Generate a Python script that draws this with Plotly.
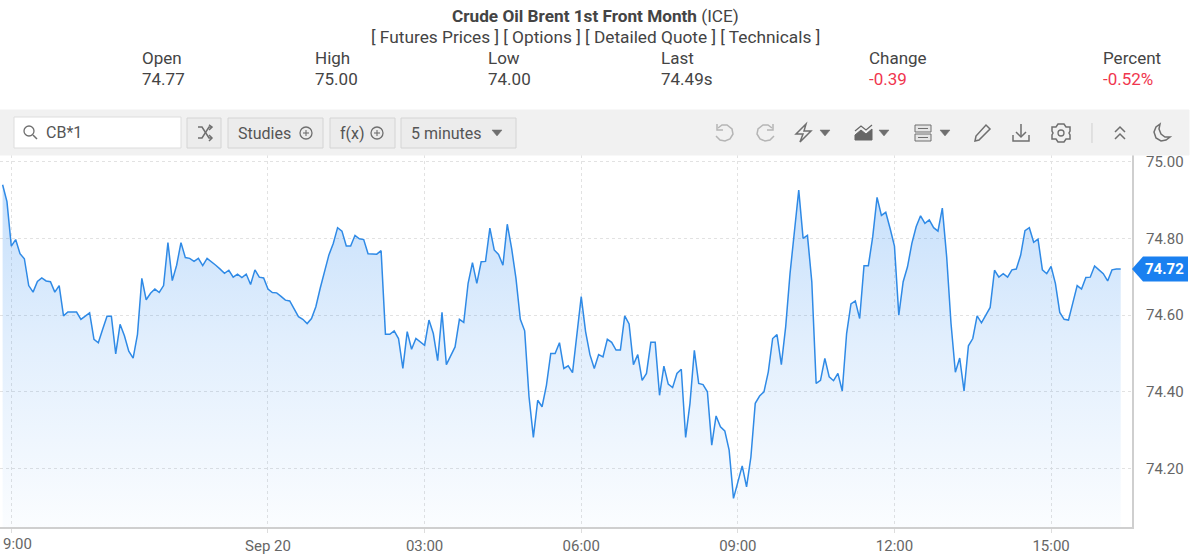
import plotly.graph_objects as go

# 5 minute closes
price = [
    74.94, 74.896, 74.78, 74.797, 74.76, 74.747, 74.677, 74.66, 74.688, 74.697, 74.689, 74.687,
    74.66, 74.677, 74.598, 74.608, 74.608, 74.608, 74.589, 74.597, 74.606, 74.537, 74.528, 74.563,
    74.597, 74.597, 74.499, 74.576, 74.546, 74.506, 74.488, 74.55, 74.696, 74.64, 74.657, 74.668,
    74.659, 74.677, 74.789, 74.69, 74.73, 74.789, 74.75, 74.748, 74.74, 74.748, 74.729, 74.748,
    74.74, 74.73, 74.72, 74.709, 74.717, 74.699, 74.707, 74.698, 74.707, 74.68, 74.718, 74.699,
    74.697, 74.668, 74.659, 74.658, 74.649, 74.639, 74.637, 74.616, 74.596,
    74.589, 74.578, 74.591, 74.622, 74.67, 74.717, 74.757, 74.787, 74.828, 74.819, 74.78, 74.78,
    74.808, 74.799, 74.797, 74.76, 74.759, 74.759, 74.768, 74.55, 74.55, 74.559, 74.539, 74.461,
    74.557, 74.511, 74.539, 74.53, 74.521, 74.587, 74.552, 74.481, 74.607, 74.471, 74.496, 74.517,
    74.589, 74.581, 74.683, 74.737, 74.683, 74.739, 74.74, 74.827, 74.77, 74.758, 74.73, 74.837,
    74.774, 74.696, 74.589, 74.559, 74.387, 74.281, 74.378, 74.361, 74.417, 74.5, 74.5, 74.528,
    74.461, 74.468, 74.45, 74.552, 74.648, 74.557, 74.497, 74.461, 74.497,
    74.491, 74.537, 74.529, 74.509, 74.509, 74.598, 74.577, 74.471, 74.497, 74.43, 74.448, 74.529,
    74.529, 74.391, 74.467, 74.42, 74.411, 74.448, 74.459, 74.281, 74.37, 74.508, 74.422, 74.419,
    74.4, 74.261, 74.337, 74.309, 74.298, 74.248, 74.122, 74.165, 74.207, 74.152, 74.23, 74.37,
    74.389, 74.4, 74.452, 74.539, 74.549, 74.471, 74.57, 74.709, 74.809, 74.926, 74.8, 74.808,
    74.687, 74.422, 74.43, 74.487, 74.439, 74.429, 74.448, 74.402, 74.552, 74.629, 74.637, 74.591,
    74.729, 74.729, 74.804, 74.907, 74.86, 74.868, 74.826, 74.78, 74.6,
    74.687, 74.726, 74.787, 74.831, 74.859, 74.839, 74.848, 74.828, 74.819, 74.879, 74.752, 74.578,
    74.451, 74.488, 74.402, 74.52, 74.539, 74.598, 74.58, 74.6, 74.62, 74.717, 74.699, 74.708,
    74.699, 74.718, 74.72, 74.756, 74.82, 74.828, 74.79, 74.798, 74.718, 74.708, 74.727, 74.682,
    74.607, 74.589, 74.587, 74.632, 74.677, 74.668, 74.698, 74.699, 74.728, 74.718, 74.708, 74.689,
    74.718, 74.72, 74.72,
]
bar = list(range(len(price)))

tick_bars = [2, 61, 97, 133, 169, 205, 241]
tick_labels = ['', 'Sep 20', '03:00', '06:00', '09:00', '12:00', '15:00']
price_ticks = [74.2, 74.4, 74.6, 74.8, 75.0]
last_tag = 74.72

stat_names = ['Open', 'High', 'Low', 'Last', 'Change', 'Percent']
stat_values = ['74.77', '75.00', '74.00', '74.49s', '-0.39', '-0.52%']
stat_x = [142, 315, 488, 661, 869, 1103]

# plot area in page pixels
PL, PR, PT, PB = 0, 1132, 155, 527
FONT = 'Roboto'
TXT = '#444444'
ICON = '#6f6f6f'
BLUE = '#2f8ae6'
GRID = '#e2e2e2'


def px(x):
    return (x - PL) / (PR - PL)


def py(y):
    return (PB - y) / (PB - PT)


def label(x, y, text, size=17, color=TXT, anchor='left'):
    return dict(x=px(x), y=py(y), xref='paper', yref='paper', text=text, showarrow=False,
                xanchor=anchor, yanchor='middle', font=dict(family=FONT, size=size, color=color))


def box(x0, y0, x1, y1, fill, line=None, width=1):
    return dict(type='rect', xref='paper', yref='paper', x0=px(x0), x1=px(x1), y0=py(y0), y1=py(y1),
                fillcolor=fill, line=dict(color=line or fill, width=width), layer='above')


def circle(cx, cy, r, color=ICON, width=1.3):
    return dict(type='circle', xref='paper', yref='paper', x0=px(cx - r), x1=px(cx + r), y0=py(cy - r), y1=py(cy + r),
                line=dict(color=color, width=width), fillcolor='rgba(0,0,0,0)', layer='above')


def icon(pts, color=ICON, width=1.5, fill=None, closed=False):
    # pts are page pixels
    path = 'M ' + ' L '.join(f'{px(x):.5f} {py(y):.5f}' for x, y in pts) + (' Z' if closed else '')
    return dict(type='path', xref='paper', yref='paper', path=path, layer='above',
                fillcolor=fill or 'rgba(0,0,0,0)', line=dict(color=color, width=width))


def caret(x, y=133, color=ICON):
    return icon([(x - 5, y - 3), (x + 5, y - 3), (x, y + 3)], color=color, width=0.5, fill=color, closed=True)


fig = go.Figure()
# see-through fill so the dotted grid shows under the area
fig.add_trace(go.Scatter(
    x=bar, y=price, mode='lines', line=dict(color=BLUE, width=1.5), fill='tozeroy', hoverinfo='skip',
    fillgradient=dict(type='vertical', start=74.05, stop=75.0,
                      colorscale=[[0, 'rgba(26,128,240,0.02)'], [0.5, 'rgba(26,128,240,0.127)'], [1, 'rgba(26,128,240,0.265)']]),
))

shapes = [
    box(0, 110, 1189, 155, '#f1f1f1'),
    box(14, 117, 181, 148, '#ffffff', '#dddddd'),
    box(187, 118, 221, 148, '#ececec', '#d4d4d4'),
    box(228, 118, 323, 148, '#ececec', '#d4d4d4'),
    box(330, 118, 395, 148, '#ececec', '#d4d4d4'),
    box(401, 118, 516, 148, '#ececec', '#d4d4d4'),
    # search
    circle(29, 131, 5),
    icon([(33, 135), (37, 139)]),
    # shuffle
    icon([(198, 127), (202, 127), (209, 138), (212, 138)]),
    icon([(198, 138), (202, 138), (209, 127), (212, 127)]),
    icon([(209, 125), (212, 127), (209, 130)]),
    icon([(209, 135), (212, 138), (209, 141)]),
    # circled plus
    circle(306, 133, 6),
    icon([(303, 133), (309, 133)], width=1.1),
    icon([(306, 130), (306, 136)], width=1.1),
    circle(377, 133, 6),
    icon([(374, 133), (380, 133)], width=1.1),
    icon([(377, 130), (377, 136)], width=1.1),
    caret(497),
    # undo, redo
    icon([(718, 128), (722, 125), (727, 125), (732, 129), (733, 134), (730, 139), (725, 141), (720, 140), (716, 136)], color='#b5b5b5'),
    icon([(717, 124), (717, 130), (723, 130)], color='#b5b5b5'),
    icon([(772, 128), (768, 125), (763, 125), (758, 129), (757, 134), (760, 139), (765, 141), (770, 140), (774, 136)], color='#b5b5b5'),
    icon([(773, 124), (773, 130), (767, 130)], color='#b5b5b5'),
    # lightning
    icon([(806, 124), (796, 134), (803, 134), (800, 142), (811, 131), (804, 131)], closed=True),
    caret(825),
    # area chart
    icon([(855, 140), (855, 135), (861, 130), (866, 134), (872, 129), (872, 140)], color='#666666', width=1, fill='#666666', closed=True),
    icon([(855, 131), (861, 126), (866, 130), (872, 125)], color='#666666', width=1.2),
    caret(884),
    # layout
    box(915, 125, 931, 132, '#e6e6e6', ICON),
    box(915, 134, 931, 141, '#e6e6e6', ICON),
    icon([(918, 128.5), (928, 128.5)], width=1),
    icon([(918, 137.5), (928, 137.5)], width=1),
    caret(945),
    # pencil
    icon([(975, 141), (976, 136), (986, 125), (990, 129), (979, 140)], closed=True),
    # download
    icon([(1021, 124), (1021, 136)]),
    icon([(1016, 132), (1021, 137), (1026, 132)]),
    icon([(1013, 135), (1013, 141), (1029, 141), (1029, 135)]),
    # gear
    circle(1061, 133, 3),
    icon([(1058, 124), (1064, 124), (1066, 127), (1070, 127), (1070, 131), (1069, 133), (1070, 135), (1070, 139),
          (1066, 139), (1064, 142), (1058, 142), (1056, 139), (1052, 139), (1052, 135), (1053, 133), (1052, 131),
          (1052, 127), (1056, 127)], closed=True),
    # separator
    icon([(1092, 123), (1092, 143)], color='#cfcfcf', width=1),
    # chevrons
    icon([(1115, 132), (1120, 127), (1125, 132)]),
    icon([(1115, 139), (1120, 134), (1125, 139)]),
    # moon
    icon([(1160, 124), (1156, 127), (1154, 132), (1156, 138), (1161, 141), (1166, 140), (1170, 137), (1165, 137),
          (1161, 134), (1159, 129)], closed=True),
    # last price tag, hangs off the price axis
    dict(type='path', xref='paper', xsizemode='pixel', xanchor=1, yref='y', ysizemode='pixel', yanchor=last_tag,
         path='M 0 0 L 11 12.5 L 56 12.5 L 56 -12.5 L 11 -12.5 Z', fillcolor='#1a80f0', line=dict(width=0), layer='above'),
]

annotations = [
    label(595, 16, '<b>Crude Oil Brent 1st Front Month</b> (ICE)', size=17.2, anchor='center'),
    label(595, 37, '[ Futures Prices ] [ Options ] [ Detailed Quote ] [ Technicals ]', size=17.3, anchor='center'),
    label(44, 132, 'CB*1', size=16, color='#555555'),
    label(236, 133, 'Studies', size=16, color='#555555'),
    label(338, 133, 'f(x)', size=16, color='#555555'),
    label(409, 133, '5 minutes', size=16, color='#555555'),
    # the first time label is cut by the page edge in the original
    label(17, 544, '9:00', size=15, color='#666666', anchor='center'),
    dict(x=1, xshift=32, y=last_tag, xref='paper', yref='y', text='<b>74.72</b>', showarrow=False, xanchor='center',
         font=dict(family=FONT, size=15, color='white')),
]
for name, value, x in zip(stat_names, stat_values, stat_x):
    color = '#f0364e' if value.startswith('-') else TXT
    annotations.append(label(x - 2, 58, name))
    annotations.append(label(x - 2, 79, value, color=color))

fig.update_layout(
    width=1200, height=554, margin=dict(l=PL, r=1200 - PR, t=PT, b=554 - PB, pad=0),
    plot_bgcolor='white', paper_bgcolor='white', showlegend=False,
    shapes=shapes, annotations=annotations, font=dict(family=FONT),
)
fig.update_xaxes(range=[-0.6, 259.6], tickmode='array', tickvals=tick_bars, ticktext=tick_labels,
                 showgrid=True, gridcolor=GRID, griddash='dot', gridwidth=1, zeroline=False,
                 showline=True, linecolor='#cfcfcf', linewidth=2, ticks='outside', ticklen=4, tickcolor='#dddddd',
                 tickfont=dict(family=FONT, size=15, color='#666666'))
fig.update_yaxes(range=[74.0475, 75.0175], side='right', tickmode='array', tickvals=price_ticks,
                 tickformat='.2f', showgrid=True, gridcolor=GRID, griddash='dot', gridwidth=1,
                 zeroline=False, showline=True, linecolor='#cfcfcf', linewidth=2, ticks='',
                 ticklabelstandoff=9, tickfont=dict(family=FONT, size=15, color='#666666'))

fig.write_html("out.html", config=dict(displayModeBar=False), post_script="document.body.style.margin='0';document.body.style.overflow='hidden';")
